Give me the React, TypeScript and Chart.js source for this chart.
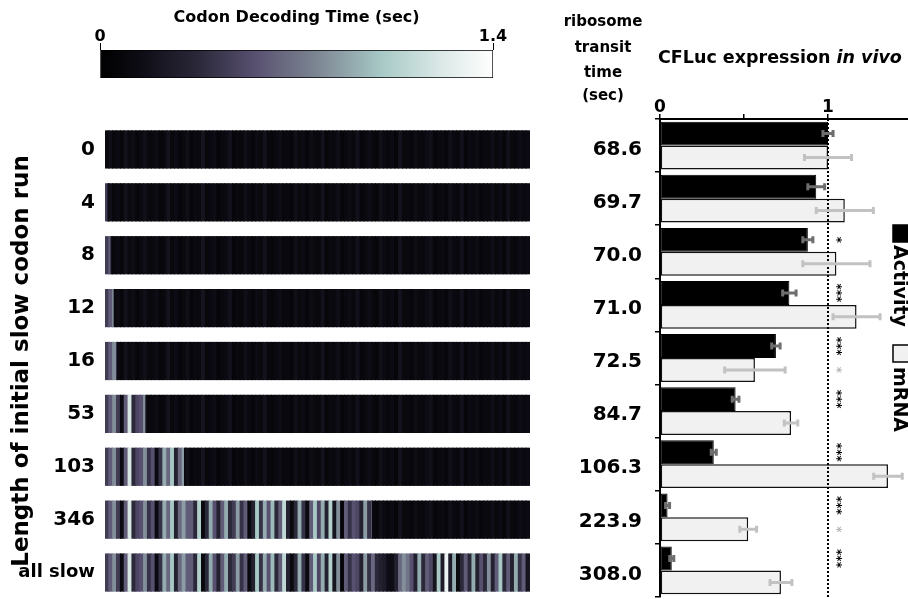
import React, { useEffect, useRef } from 'react';
import { Chart, registerables } from 'chart.js';
Chart.register(...registerables);

const FONT = '"DejaVu Sans", sans-serif';
Chart.defaults.font.family = FONT;
Chart.defaults.color = '#000';

// ---------- colour scale ----------
const colorbarMin = 0;
const colorbarMax = 1.4;
const colorbarTitle = 'Codon Decoding Time (sec)';
const colorStops: [number, string][] = [
  [0, '#000000'],
  [0.1, '#0d0c14'],
  [0.25, '#2a2839'],
  [0.4, '#5a5272'],
  [0.55, '#7c8592'],
  [0.72, '#a8cac7'],
  [0.86, '#d9e7e5'],
  [1, '#ffffff'],
];

// ---------- codon strips ----------
const runLabels = ['0', '4', '8', '12', '16', '53', '103', '346', 'all slow'];
const runLengths = [0, 4, 8, 12, 16, 53, 103, 346, 550];
const geneLength = 550;
const segmentCodons = 5;
const axisTitleLeft = 'Length of initial slow codon run';
// decoding time (sec) of each 5-codon block, slow-codon version
const slowTimes = [
  0.45, 0.6, 0.8, 0.45, 0.12, 0.6, 1.2, 0.35, 0.5, 0.55,
  0.8, 0.4, 0.55, 0.12, 0.4, 0.9, 0.65, 1.0, 0.3, 0.65,
  0.85, 0.6, 0.6, 0.35, 1.05, 0.1, 0.35, 0.9, 0.55, 0.3,
  0.6, 0.9, 0.35, 0.45, 0.85, 0.4, 0.6, 0.1, 0.3, 1.0,
  0.4, 0.9, 0.55, 0.95, 0.35, 0.6, 1.1, 0.3, 0.1, 0.35,
  0.9, 0.4, 0.1, 0.6, 1.0, 0.5, 0.9, 0.3, 1.05, 0.2,
  0.8, 0.05, 0.6, 0.4, 0.55, 0.5, 0.3, 0.85, 0.4, 0.65,
  0.35, 0.3, 0.25, 0.15, 0.15, 0.3, 0.65, 0.8, 0.7, 0.55,
  0.3, 0.9, 0.35, 0.6, 0.5, 0.2, 1.0, 0.25, 1.3, 0.25,
  0.9, 0.1, 0.35, 0.6, 0.35, 0.9, 0.3, 0.55, 0.35, 0.8,
  0.3, 0.6, 1.0, 0.35, 0.6, 0.3, 0.9, 0.4, 0.6, 0.2,
];
// decoding time (sec) of each 5-codon block, fast (wild-type) version
const fastTimes = [
  0.1, 0.16, 0.09, 0.13, 0.08, 0.18, 0.1, 0.15, 0.08, 0.12,
  0.17, 0.09, 0.11, 0.15, 0.08, 0.1, 0.19, 0.09, 0.14, 0.08,
  0.1, 0.16, 0.08, 0.12, 0.1, 0.2, 0.09, 0.11, 0.15, 0.08,
  0.1, 0.13, 0.18, 0.08, 0.1, 0.09, 0.16, 0.12, 0.08, 0.14,
  0.1, 0.19, 0.09, 0.08, 0.12, 0.15, 0.09, 0.11, 0.08, 0.17,
  0.1, 0.13, 0.08, 0.15, 0.1, 0.09, 0.18, 0.08, 0.12, 0.1,
  0.16, 0.08, 0.11, 0.14, 0.09, 0.18, 0.08, 0.1, 0.15, 0.1,
  0.08, 0.17, 0.12, 0.09, 0.13, 0.08, 0.19, 0.1, 0.11, 0.08,
  0.15, 0.1, 0.09, 0.14, 0.17, 0.08, 0.1, 0.12, 0.08, 0.16,
  0.11, 0.09, 0.18, 0.08, 0.13, 0.1, 0.15, 0.08, 0.12, 0.1,
  0.16, 0.09, 0.14, 0.08, 0.18, 0.1, 0.09, 0.15, 0.11, 0.13,
];

// ---------- expression bars ----------
const transitTimes = ['68.6', '69.7', '70.0', '71.0', '72.5', '84.7', '106.3', '223.9', '308.0'];
const transitHeader = ['ribosome', 'transit', 'time', '(sec)'];
const activity = [1.0, 0.93, 0.88, 0.77, 0.69, 0.45, 0.32, 0.045, 0.07];
const activityErr = [0.03, 0.05, 0.03, 0.04, 0.025, 0.02, 0.015, 0.012, 0.012];
const mrna = [1.0, 1.1, 1.05, 1.17, 0.565, 0.78, 1.357, 0.525, 0.72];
const mrnaErr = [0.14, 0.17, 0.2, 0.14, 0.18, 0.04, 0.085, 0.05, 0.065];
const activitySig = ['', '', '*', '***', '***', '***', '***', '***', '***'];
const mrnaSig = ['', '', '', '', '*', '', '', '*', ''];
const seriesNames = ['Activity', 'mRNA'];
const xTickLabels: Record<string, string> = { '0': '0', '1': '1' };

function hexToRgb(h: string) {
  const n = parseInt(h.slice(1), 16);
  return [(n >> 16) & 255, (n >> 8) & 255, n & 255];
}
function timeColor(v: number) {
  const f = Math.max(0, Math.min(1, (v - colorbarMin) / (colorbarMax - colorbarMin)));
  for (let i = 1; i < colorStops.length; i++) {
    const [f1, c1] = colorStops[i];
    if (f <= f1) {
      const [f0, c0] = colorStops[i - 1];
      const t = (f - f0) / (f1 - f0);
      const a = hexToRgb(c0);
      const b = hexToRgb(c1);
      const m = a.map((x, j) => Math.round(x + (b[j] - x) * t));
      return `rgb(${m[0]},${m[1]},${m[2]})`;
    }
  }
  return colorStops[colorStops.length - 1][1];
}

function buildStripSegments() {
  const out: { x: number[]; y: string; v: number }[] = [];
  runLabels.forEach((label, r) => {
    const run = runLengths[r];
    for (let k = 0; k < slowTimes.length; k++) {
      const a = k * segmentCodons;
      const b = a + segmentCodons;
      if (b <= run) out.push({ x: [a, b], y: label, v: slowTimes[k] });
      else if (a >= run) out.push({ x: [a, b], y: label, v: fastTimes[k] });
      else {
        out.push({ x: [a, run], y: label, v: slowTimes[k] });
        out.push({ x: [run, b], y: label, v: fastTimes[k] });
      }
    }
  });
  return out;
}

function noEdgePadding(s: any) {
  s.paddingTop = 0;
  s.paddingBottom = 0;
  s.paddingLeft = 0;
  s.paddingRight = 0;
}

const barExtras = {
  id: 'barExtras',
  afterDatasetsDraw(chart: any) {
    const ctx = chart.ctx;
    const xs = chart.scales.x;
    const area = chart.chartArea;
    const x1 = xs.getPixelForValue(1);
    ctx.save();
    // dotted reference line at 1
    ctx.setLineDash([2, 2]);
    ctx.lineWidth = 2;
    ctx.strokeStyle = '#000';
    ctx.beginPath();
    ctx.moveTo(x1, area.top);
    ctx.lineTo(x1, chart.height);
    ctx.stroke();
    ctx.setLineDash([]);
    // error bars
    const errs = [activityErr, mrnaErr];
    const vals = [activity, mrna];
    const errColors = ['#6e6e6e', '#c2c2c2'];
    [0, 1].forEach((d) => {
      const meta = chart.getDatasetMeta(d);
      meta.data.forEach((bar: any, j: number) => {
        const lo = xs.getPixelForValue(vals[d][j] - errs[d][j]);
        const hi = xs.getPixelForValue(vals[d][j] + errs[d][j]);
        const y = bar.y;
        ctx.strokeStyle = errColors[d];
        ctx.lineWidth = 3;
        ctx.beginPath();
        ctx.moveTo(lo, y);
        ctx.lineTo(hi, y);
        ctx.moveTo(lo, y - 3.5);
        ctx.lineTo(lo, y + 3.5);
        ctx.moveTo(hi, y - 3.5);
        ctx.lineTo(hi, y + 3.5);
        ctx.stroke();
      });
    });
    // significance stars
    const sigs = [activitySig, mrnaSig];
    const sigColors = ['#000', '#b4b4b4'];
    ctx.font = `bold 12px ${FONT}`;
    ctx.textAlign = 'center';
    ctx.textBaseline = 'middle';
    [0, 1].forEach((d) => {
      const meta = chart.getDatasetMeta(d);
      meta.data.forEach((bar: any, j: number) => {
        const s = sigs[d][j];
        if (!s) return;
        ctx.save();
        ctx.translate(x1 + 8, bar.y);
        ctx.rotate(Math.PI / 2);
        ctx.fillStyle = sigColors[d];
        ctx.fillText(s, 0, 0);
        ctx.restore();
      });
    });
    ctx.restore();
  },
  afterDraw(chart: any) {
    const ctx = chart.ctx;
    const area = chart.chartArea;
    ctx.save();
    ctx.fillStyle = '#000';
    // header above transit-time labels
    ctx.font = `bold 15px ${FONT}`;
    ctx.textAlign = 'center';
    ctx.textBaseline = 'alphabetic';
    const hx = area.left - 57;
    [26, 52, 77, 100].forEach((y, i) => ctx.fillText(transitHeader[i], hx, y));
    // panel title
    ctx.textAlign = 'left';
    ctx.font = `bold 17.5px ${FONT}`;
    const t1 = 'CFLuc expression ';
    const tx = area.left - 2;
    ctx.fillText(t1, tx, 63);
    const w = ctx.measureText(t1).width;
    ctx.font = `italic bold 17.5px ${FONT}`;
    ctx.fillText('in vivo', tx + w, 63);
    // rotated legend
    const ds = chart.data.datasets;
    const lx = area.left + 233;
    const items = [
      { top: 225, textTop: 245 },
      { top: 345, textTop: 367 },
    ];
    items.forEach((it, i) => {
      ctx.fillStyle = ds[i].backgroundColor;
      ctx.fillRect(lx, it.top, 16, 17);
      ctx.strokeStyle = '#000';
      ctx.lineWidth = 1.5;
      ctx.strokeRect(lx, it.top, 16, 17);
      ctx.save();
      ctx.translate(lx + 1, it.textTop);
      ctx.rotate(Math.PI / 2);
      ctx.fillStyle = '#000';
      ctx.font = `bold 19px ${FONT}`;
      ctx.textAlign = 'left';
      ctx.textBaseline = 'alphabetic';
      ctx.fillText(seriesNames[i], 0, 0);
      ctx.restore();
    });
    ctx.restore();
  },
};

export default function App() {
  const cbRef = useRef<HTMLCanvasElement>(null);
  const hmRef = useRef<HTMLCanvasElement>(null);
  const barRef = useRef<HTMLCanvasElement>(null);

  useEffect(() => {
    const charts: Chart[] = [];

    // colour bar
    charts.push(
      new Chart(cbRef.current!, {
        type: 'bar',
        data: {
          labels: [''],
          datasets: [
            {
              data: [[colorbarMin, colorbarMax]] as any,
              backgroundColor: (c: any) => {
                const ch = c.chart;
                if (!ch.chartArea) return '#000';
                const xs = ch.scales.x;
                const g = ch.ctx.createLinearGradient(
                  xs.getPixelForValue(colorbarMin), 0, xs.getPixelForValue(colorbarMax), 0);
                colorStops.forEach(([f, col]) => g.addColorStop(f, col));
                return g;
              },
              borderColor: '#000',
              borderWidth: 1,
              borderSkipped: false,
              barPercentage: 1,
              categoryPercentage: 1,
            },
          ],
        },
        options: {
          indexAxis: 'y',
          responsive: false,
          animation: false,
          events: [],
          layout: { padding: { left: 100, right: 67, top: 0, bottom: 17 } },
          plugins: { legend: { display: false }, tooltip: { enabled: false } },
          scales: {
            x: {
              type: 'linear',
              position: 'top',
              min: colorbarMin,
              max: colorbarMax,
              afterBuildTicks: (s: any) => {
                s.ticks = [{ value: colorbarMin }, { value: colorbarMax }];
              },
              afterFit: (s: any) => {
                s.height = 50;
                noEdgePadding(s);
              },
              ticks: {
                padding: -3,
                color: '#000',
                maxRotation: 0,
                font: { size: 16, weight: 'bold' },
                callback: (v: any) => String(v),
              },
              grid: { drawOnChartArea: false, tickLength: 7, color: '#000' },
              border: { display: false },
              title: {
                display: true,
                text: colorbarTitle,
                color: '#000',
                font: { size: 16, weight: 'bold' },
                padding: { top: 8, bottom: 0 },
              },
            },
            y: { display: false },
          },
        } as any,
      })
    );

    // codon strips
    charts.push(
      new Chart(hmRef.current!, {
        type: 'bar',
        data: {
          labels: runLabels,
          datasets: [
            {
              data: buildStripSegments() as any,
              backgroundColor: (c: any) => timeColor(c.raw ? c.raw.v : 0),
              borderWidth: 0,
              borderSkipped: false,
              inflateAmount: 0.6,
              barPercentage: 0.7,
              categoryPercentage: 1,
            } as any,
          ],
        },
        options: {
          indexAxis: 'y',
          responsive: false,
          animation: false,
          events: [],
          layout: { padding: { left: 0, right: 30, top: 123, bottom: 0 } },
          plugins: { legend: { display: false }, tooltip: { enabled: false } },
          scales: {
            x: { type: 'linear', min: 0, max: geneLength, display: false },
            y: {
              type: 'category',
              grid: { display: false, drawTicks: false },
              border: { display: false },
              afterFit: (s: any) => {
                s.width = 105;
                noEdgePadding(s);
              },
              ticks: {
                autoSkip: false,
                padding: 10,
                color: '#000',
                font: (c: any) => ({ family: FONT, size: c.index === 8 ? 18 : 20, weight: 'bold' }),
              },
              title: {
                display: true,
                text: axisTitleLeft,
                color: '#000',
                font: { size: 23, weight: 'bold' },
                padding: { top: 8, bottom: 0 },
              },
            },
          },
        } as any,
      })
    );

    // expression bars
    charts.push(
      new Chart(barRef.current!, {
        type: 'bar',
        data: {
          labels: transitTimes,
          datasets: [
            {
              label: seriesNames[0],
              data: activity,
              backgroundColor: '#000000',
              borderColor: '#000000',
              borderWidth: 1,
              borderSkipped: false,
            },
            {
              label: seriesNames[1],
              data: mrna,
              backgroundColor: '#f1f1f1',
              borderColor: '#111111',
              borderWidth: 1.5,
              borderSkipped: false,
            },
          ],
        },
        options: {
          indexAxis: 'y',
          responsive: false,
          animation: false,
          events: [],
          datasets: { bar: { categoryPercentage: 0.9, barPercentage: 1 } },
          layout: { padding: { left: 0, right: 8, top: 0, bottom: 2 } },
          plugins: { legend: { display: false }, tooltip: { enabled: false } },
          scales: {
            x: {
              type: 'linear',
              position: 'top',
              min: 0,
              max: 1.5,
              afterFit: (s: any) => {
                s.height = 119;
                noEdgePadding(s);
              },
              ticks: {
                stepSize: 0.5,
                autoSkip: false,
                maxRotation: 0,
                padding: -4,
                color: '#000',
                font: { size: 17, weight: 'bold' },
                callback: (v: any) => xTickLabels[String(v)] ?? '',
              },
              grid: { drawOnChartArea: false, tickLength: 5, color: '#000', lineWidth: 1.5 },
              border: { color: '#000', width: 2 },
            },
            y: {
              type: 'category',
              afterFit: (s: any) => {
                s.width = 100;
                noEdgePadding(s);
              },
              grid: { drawOnChartArea: false, tickLength: 5, color: '#000', lineWidth: 1.5, offset: true },
              border: { color: '#000', width: 2 },
              ticks: {
                autoSkip: false,
                padding: 13,
                labelOffset: 4,
                color: '#000',
                font: { size: 20, weight: 'bold' },
              },
            },
          },
        } as any,
        plugins: [barExtras],
      })
    );

    return () => charts.forEach((c) => c.destroy());
  }, []);

  return (
    <div
      style={{
        position: 'fixed',
        left: 0,
        top: 0,
        width: 908,
        height: 599,
        overflow: 'hidden',
        background: '#fff',
      }}
    >
      <canvas ref={hmRef} width={560} height={599} style={{ position: 'absolute', left: 0, top: 0, width: 560, height: 599 }} />
      <canvas ref={cbRef} width={560} height={95} style={{ position: 'absolute', left: 0, top: 0, width: 560, height: 95 }} />
      <canvas ref={barRef} width={360} height={599} style={{ position: 'absolute', left: 560, top: 0, width: 360, height: 599 }} />
    </div>
  );
}
